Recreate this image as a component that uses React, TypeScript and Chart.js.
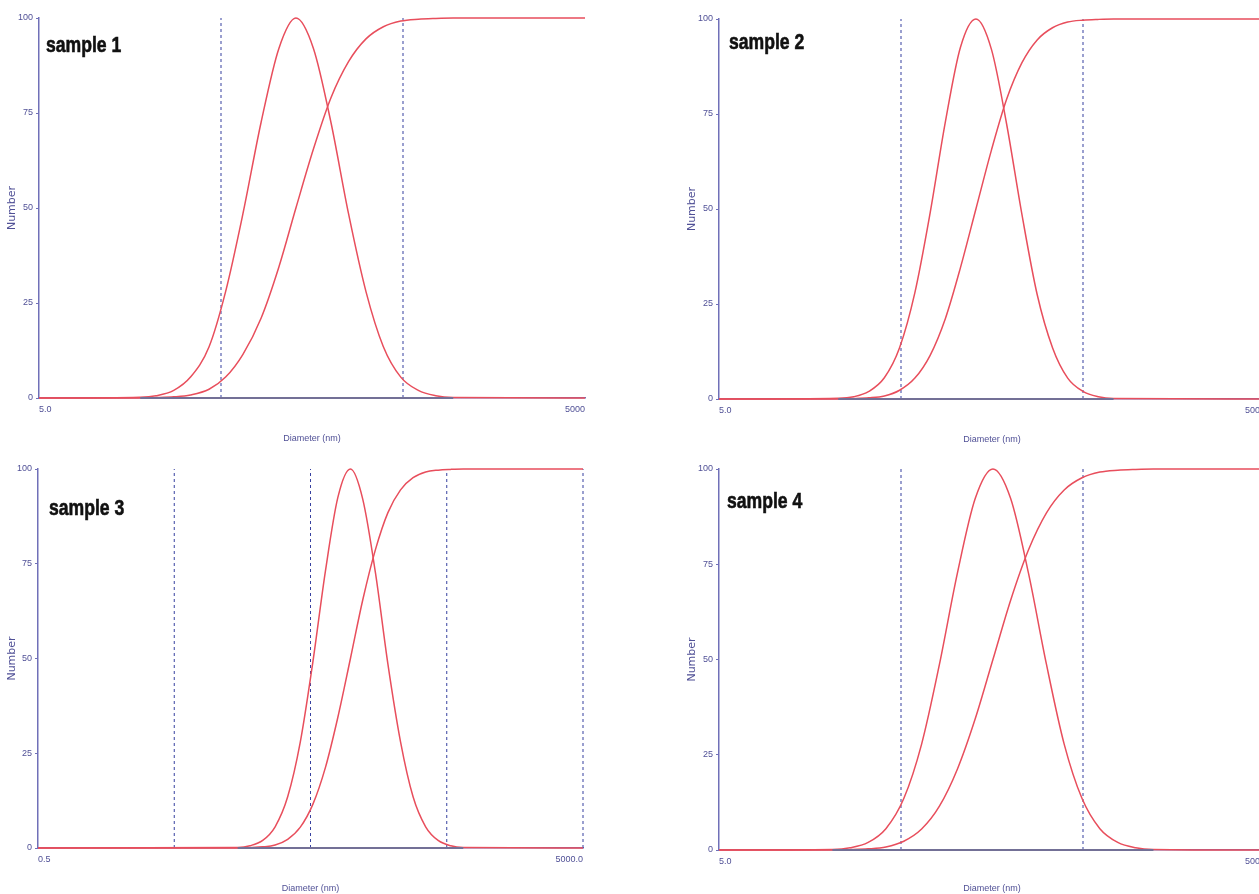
import React, { useEffect, useRef } from "react";
import { Chart, registerables } from "chart.js";
Chart.register(...registerables);

// ---------- data ----------
const sampleNames = ["sample 1", "sample 2", "sample 3", "sample 4"];
const axisMin = [5, 5, 0.5, 5];
const axisMax = [5000, 5000, 5000, 5000];
const xTickLabels = [
  ["5.0", "5000"],
  ["5.0", "5000"],
  ["0.5", "5000.0"],
  ["5.0", "5000"],
];
const yTickValues = [0, 25, 50, 75, 100];
const yTitle = "Number";
const xTitle = "Diameter (nm)";

const diameters1 = [18, 22, 27.5, 34, 43, 53, 66, 83, 104, 129, 161, 201, 251, 313, 390, 486, 607, 757, 944];
const number1 = [0.2, 0.6, 2, 5.5, 13.5, 28, 48.5, 72.5, 92, 100, 92, 72.5, 48.5, 28, 13.5, 5.5, 2, 0.6, 0.15];
const cumulative1 = [0, 0.1, 0.3, 0.8, 2.3, 5.5, 11.5, 21, 34.5, 50, 65.5, 79, 88.5, 94.5, 97.7, 99.2, 99.7, 99.9, 100];

const diameters2 = [22.6, 27.5, 33.3, 40.5, 49.1, 59.6, 72.3, 87.7, 106, 129, 157, 190, 231, 280, 340, 412, 500, 607, 736];
const number2 = [0.2, 0.6, 2, 5.6, 13.5, 28, 49, 73, 92.5, 100, 92, 72.5, 48.5, 27.5, 13.5, 5.5, 2, 0.6, 0.15];
const cumulative2 = [0, 0.1, 0.3, 0.8, 2.3, 5.5, 11.5, 21.2, 34.5, 50, 65.5, 78.8, 88.5, 94.5, 97.7, 99.2, 99.7, 99.9, 100];

const diameters3 = [14.6, 18, 22.3, 27.5, 34, 42.1, 52, 64.3, 79.4, 98.2, 121, 150, 185, 229, 283, 350, 432, 535, 661];
const number3 = [0.15, 0.6, 2, 5.6, 13.5, 28, 49, 73, 92.5, 100, 92, 72.5, 48.5, 28, 13.5, 5.6, 2, 0.6, 0.15];
const cumulative3 = [0, 0.1, 0.3, 0.8, 2.3, 5.5, 11.5, 21.2, 34.5, 50, 65.5, 78.8, 88.5, 94.5, 97.7, 99.2, 99.7, 99.9, 100];

const diameters4 = [21, 26.3, 33, 41.3, 51.8, 64.9, 81.3, 102, 128, 160, 200, 251, 315, 394, 494, 619, 776, 973, 1219];
const number4 = [0.15, 0.6, 2, 5.6, 13.5, 27.8, 48.7, 72.6, 92.3, 100, 92.3, 72.6, 48.7, 27.8, 13.5, 5.6, 2, 0.6, 0.15];
const cumulative4 = [0, 0.1, 0.3, 0.8, 2.3, 5.5, 11.5, 21.2, 34.5, 50, 65.5, 78.8, 88.5, 94.5, 97.7, 99.2, 99.7, 99.9, 100];

const dashed1 = [50, 500];
const dashed2 = [50, 500];
const dashed3 = [5, 50, 500, 5000];
const dashed4 = [50, 500];

// ---------- styles / layout ----------
const RED = "rgb(232, 78, 92)";
const BASE = "rgb(115, 112, 150)";
const DASH = "rgb(55, 65, 160)";
const AXIS = "rgb(112, 112, 184)";
const LABEL = "rgb(80, 80, 150)";
const SANS = "'Liberation Sans', Arial, sans-serif";

type Box = {
  left: number; top: number; width: number; height: number;
  padTop: number; padRight: number; padBottom: number;
  yw: number; xh: number;
  labelLeft: number; labelTop: number;
};

const boxes: Box[] = [
  { left: 0, top: 0, width: 600, height: 450, padTop: 18, padRight: 15, padBottom: 6, yw: 39, xh: 46, labelLeft: 46, labelTop: 34 },
  { left: 680, top: 0, width: 600, height: 450, padTop: 19, padRight: 15, padBottom: 5, yw: 39, xh: 46, labelLeft: 729, labelTop: 31 },
  { left: 0, top: 450, width: 600, height: 444, padTop: 19, padRight: 17, padBottom: 0, yw: 38, xh: 46, labelLeft: 49, labelTop: 497 },
  { left: 680, top: 450, width: 600, height: 444, padTop: 19, padRight: 15, padBottom: 0, yw: 39, xh: 44, labelLeft: 727, labelTop: 490 },
];

const panelData = [
  { diam: diameters1, num: number1, cum: cumulative1, dashed: dashed1 },
  { diam: diameters2, num: number2, cum: cumulative2, dashed: dashed2 },
  { diam: diameters3, num: number3, cum: cumulative3, dashed: dashed3 },
  { diam: diameters4, num: number4, cum: cumulative4, dashed: dashed4 },
];

function Panel({ idx }: { idx: number }) {
  const ref = useRef<HTMLCanvasElement>(null);
  const box = boxes[idx];
  useEffect(() => {
    if (!ref.current) return;
    const { diam, num, cum, dashed } = panelData[idx];
    const min = axisMin[idx];
    const max = axisMax[idx];
    const datasets: any[] = [];
    datasets.push({
      data: [{ x: diam[0], y: 0 }, { x: diam[diam.length - 1], y: 0 }],
      borderColor: BASE, borderWidth: 2, order: 0, clip: false,
    });
    datasets.push({
      data: [{ x: min, y: 0 }, ...diam.map((d, i) => ({ x: d, y: num[i] })), { x: max, y: 0 }],
      borderColor: RED, borderWidth: 1.5, cubicInterpolationMode: "monotone", order: 1, clip: false,
    });
    datasets.push({
      data: [{ x: min, y: 0 }, ...diam.map((d, i) => ({ x: d, y: cum[i] })), { x: max, y: 100 }],
      borderColor: RED, borderWidth: 1.5, cubicInterpolationMode: "monotone", order: 1, clip: false,
    });
    dashed.forEach((v) => {
      datasets.push({
        data: [{ x: v, y: 0 }, { x: v, y: 100 }],
        borderColor: DASH, borderWidth: 1, borderDash: [3, 3], order: 3, clip: false,
      });
    });

    const chart = new Chart(ref.current, {
      type: "line",
      data: { datasets },
      options: {
        animation: false,
        responsive: false,
        maintainAspectRatio: false,
        layout: { padding: { left: 0, top: box.padTop, right: box.padRight, bottom: box.padBottom } },
        plugins: { legend: { display: false }, tooltip: { enabled: false } },
        elements: { point: { radius: 0 } },
        scales: {
          x: {
            type: "logarithmic",
            min, max,
            afterBuildTicks: (a: any) => { a.ticks = [{ value: min }, { value: max }]; },
            afterFit: (s: any) => { s.height = box.xh; },
            ticks: {
              autoSkip: false, maxRotation: 0, minRotation: 0, align: "inner", padding: 6,
              color: LABEL, font: { family: SANS, size: 9 },
              callback: (_v: any, i: number) => xTickLabels[idx][i],
            },
            grid: { display: false, drawTicks: false },
            border: { display: true, color: AXIS, width: 1.5 },
            title: { display: true, text: xTitle, color: LABEL, font: { family: SANS, size: 9 }, padding: { top: 0, bottom: 0 } },
          },
          y: {
            type: "linear",
            min: 0, max: 100,
            afterBuildTicks: (a: any) => { a.ticks = yTickValues.map((v) => ({ value: v })); },
            afterFit: (s: any) => { s.width = box.yw; },
            ticks: { padding: 3, color: LABEL, font: { family: SANS, size: 9 } },
            grid: { display: true, drawOnChartArea: false, drawTicks: true, tickLength: 3, color: AXIS },
            border: { display: true, color: AXIS, width: 1.5 },
            title: { display: true, text: yTitle, color: LABEL, font: { family: "'DejaVu Sans', sans-serif", size: 11 }, padding: { top: 6, bottom: 0 } },
          },
        },
      } as any,
    });
    return () => chart.destroy();
  }, [idx]);

  return (
    <>
      <canvas
        ref={ref}
        width={box.width}
        height={box.height}
        style={{ position: "absolute", left: box.left, top: box.top, width: box.width, height: box.height }}
      />
      <div
        style={{
          position: "absolute", left: box.labelLeft, top: box.labelTop,
          fontFamily: SANS, fontWeight: "bold", fontSize: 22, lineHeight: "22px",
          color: "#111", whiteSpace: "nowrap",
          WebkitTextStroke: "0.6px #111",
          transform: "scaleX(0.8)", transformOrigin: "left top",
        }}
      >
        {sampleNames[idx]}
      </div>
    </>
  );
}

export default function App() {
  return (
    <div
      style={{
        position: "absolute", left: 0, top: 0, width: 1259, height: 894,
        overflow: "hidden", background: "#fff",
      }}
    >
      {[0, 1, 2, 3].map((i) => <Panel key={i} idx={i} />)}
    </div>
  );
}
